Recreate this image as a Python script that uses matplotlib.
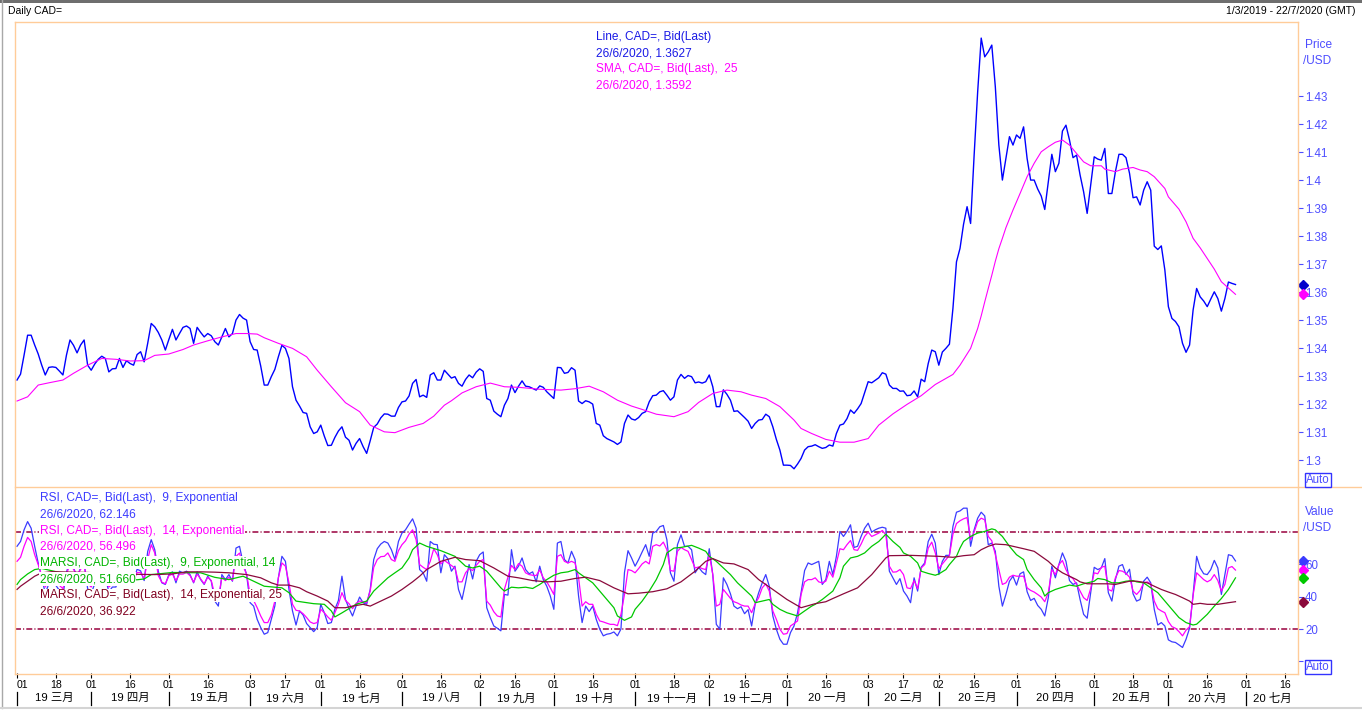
import numpy as np
import pandas as pd
import matplotlib
matplotlib.use('Agg')
import matplotlib.pyplot as plt
from matplotlib.lines import Line2D
from matplotlib.patches import Rectangle
import matplotlib.transforms as mtransforms

plt.rcParams['font.family'] = ['Liberation Sans', 'Noto Sans CJK SC', 'DejaVu Sans']

# ---------------- data ----------------
trading_days = pd.bdate_range('2019-03-01', '2020-07-22')

price = [
    1.3286, 1.3307, 1.3375, 1.3446, 1.3446, 1.3411, 1.3379, 1.3339, 1.3304, 1.3331,
    1.3333, 1.3331, 1.3318, 1.3304, 1.3375, 1.3429, 1.3410, 1.3383, 1.3411, 1.3429,
    1.3339, 1.3321, 1.3343, 1.3360, 1.3371, 1.3363, 1.3315, 1.3326, 1.3327, 1.3363,
    1.3331, 1.3355, 1.3345, 1.3339, 1.3377, 1.3387, 1.3351, 1.3417, 1.3488, 1.3476,
    1.3456, 1.3429, 1.3393, 1.3431, 1.3467, 1.3429, 1.3452, 1.3474, 1.3479, 1.3470,
    1.3417, 1.3474, 1.3456, 1.3440, 1.3452, 1.3444, 1.3423, 1.3411, 1.3440, 1.3470,
    1.3440, 1.3452, 1.3500, 1.3520, 1.3507, 1.3500, 1.3423, 1.3395, 1.3393, 1.3336,
    1.3268, 1.3268, 1.3298, 1.3324, 1.3369, 1.3410, 1.3399, 1.3363, 1.3262, 1.3214,
    1.3193, 1.3170, 1.3167, 1.3119, 1.3095, 1.3101, 1.3125, 1.3086, 1.3052, 1.3053,
    1.3081, 1.3104, 1.3119, 1.3082, 1.3071, 1.3036, 1.3060, 1.3077, 1.3048, 1.3024,
    1.3069, 1.3117, 1.3129, 1.3151, 1.3165, 1.3164, 1.3157, 1.3157, 1.3188, 1.3208,
    1.3211, 1.3229, 1.3274, 1.3288, 1.3226, 1.3232, 1.3224, 1.3304, 1.3312, 1.3286,
    1.3286, 1.3321, 1.3307, 1.3293, 1.3298, 1.3274, 1.3264, 1.3288, 1.3304, 1.3294,
    1.3314, 1.3326, 1.3317, 1.3220, 1.3214, 1.3175, 1.3164, 1.3155, 1.3196, 1.3220,
    1.3268, 1.3241, 1.3264, 1.3283, 1.3264, 1.3262, 1.3256, 1.3250, 1.3265, 1.3260,
    1.3244, 1.3232, 1.3220, 1.3331, 1.3330, 1.3310, 1.3313, 1.3330, 1.3321, 1.3211,
    1.3202, 1.3212, 1.3208, 1.3200, 1.3131, 1.3125, 1.3087, 1.3077, 1.3071, 1.3065,
    1.3056, 1.3065, 1.3131, 1.3161, 1.3147, 1.3143, 1.3152, 1.3167, 1.3173, 1.3208,
    1.3230, 1.3232, 1.3244, 1.3248, 1.3232, 1.3214, 1.3226, 1.3286, 1.3306, 1.3292,
    1.3302, 1.3298, 1.3276, 1.3279, 1.3275, 1.3280, 1.3304, 1.3262, 1.3191, 1.3191,
    1.3251, 1.3235, 1.3214, 1.3174, 1.3176, 1.3164, 1.3152, 1.3139, 1.3113, 1.3131,
    1.3143, 1.3145, 1.3164, 1.3155, 1.3119, 1.3074, 1.3036, 1.2982, 1.2982, 1.2981,
    1.2969, 1.2986, 1.3006, 1.3036, 1.3048, 1.3050, 1.3055, 1.3048, 1.3042, 1.3045,
    1.3054, 1.3050, 1.3095, 1.3125, 1.3129, 1.3148, 1.3179, 1.3167, 1.3183, 1.3202,
    1.3241, 1.3280, 1.3276, 1.3285, 1.3294, 1.3312, 1.3307, 1.3268, 1.3256, 1.3256,
    1.3246, 1.3247, 1.3230, 1.3232, 1.3247, 1.3226, 1.3289, 1.3280, 1.3345, 1.3393,
    1.3387, 1.3339, 1.3386, 1.3399, 1.3414, 1.3542, 1.3708, 1.3756, 1.3842, 1.3905,
    1.3845, 1.4089, 1.4315, 1.4507, 1.4440, 1.4458, 1.4482, 1.4333, 1.4125, 1.4000,
    1.4077, 1.4155, 1.4125, 1.4161, 1.4149, 1.4190, 1.4077, 1.4000, 1.4000, 1.3968,
    1.3943, 1.3895, 1.3994, 1.4092, 1.4030, 1.4060, 1.4175, 1.4196, 1.4143, 1.4080,
    1.4089, 1.4018, 1.3958, 1.3881, 1.3982, 1.4083, 1.4075, 1.4071, 1.4113, 1.3952,
    1.3952, 1.4030, 1.4092, 1.4092, 1.4080, 1.4024, 1.3937, 1.3940, 1.3911, 1.3964,
    1.3994, 1.3964, 1.3764, 1.3752, 1.3765, 1.3679, 1.3548, 1.3506, 1.3495, 1.3476,
    1.3417, 1.3385, 1.3411, 1.3536, 1.3613, 1.3583, 1.3568, 1.3548, 1.3575, 1.3601,
    1.3577, 1.3532, 1.3577, 1.3636, 1.3631, 1.3627,
]

sma_day = [0, 3, 6, 9, 13, 16, 20, 24, 28, 32, 36, 39, 43, 47, 50, 54, 58, 62, 65, 68,
           70, 74, 78, 82, 85, 89, 93, 97, 100, 104, 107, 111, 115, 118, 121,
           123, 126, 130, 134, 138, 142, 148, 154, 158, 162, 166, 170, 174, 177, 181,
           186, 190, 193, 197, 201, 205, 208, 212, 216, 220, 222, 225, 229, 233, 237,
           241, 244, 248, 252, 256, 260, 265, 267, 270, 272, 273, 274, 275, 276, 277,
           278, 279, 280, 282, 284, 286, 288, 290, 292, 294, 296, 298, 300, 302, 304,
           307, 308, 311, 313, 316, 318, 320, 322, 325, 326, 329, 331, 333, 335, 337,
           339, 341, 345]
sma = [1.3211, 1.3226, 1.3268, 1.3276, 1.3286, 1.3310, 1.3339, 1.3363, 1.3360, 1.3354,
       1.3355, 1.3374, 1.3379, 1.3395, 1.3411, 1.3426, 1.3440, 1.3452, 1.3452, 1.3450,
       1.3437, 1.3417, 1.3399, 1.3369, 1.3321, 1.3262, 1.3205, 1.3173, 1.3125, 1.3101,
       1.3098, 1.3117, 1.3131, 1.3157, 1.3196,
       1.3212, 1.3240, 1.3262, 1.3275, 1.3262, 1.3260, 1.3253, 1.3250, 1.3255, 1.3264,
       1.3244, 1.3214, 1.3193, 1.3181, 1.3164, 1.3155, 1.3173, 1.3206, 1.3238, 1.3250,
       1.3244, 1.3232, 1.3220, 1.3191, 1.3143, 1.3113, 1.3095, 1.3074, 1.3064, 1.3064,
       1.3077, 1.3125, 1.3165, 1.3199, 1.3230, 1.3270, 1.3306, 1.3339, 1.3399, 1.3470,
       1.3515, 1.3565, 1.3613, 1.3660, 1.3710, 1.3755, 1.3792, 1.3830, 1.3893, 1.3952,
       1.4012, 1.4060, 1.4101, 1.4119, 1.4135, 1.4143, 1.4125, 1.4095, 1.4065, 1.4051,
       1.4051, 1.4039, 1.4030, 1.4039, 1.4045, 1.4036, 1.4030, 1.4012, 1.3970, 1.3940,
       1.3896, 1.3851, 1.3792, 1.3758, 1.3720, 1.3682, 1.3637, 1.3592]

rsi9 = [
    71.2, 74.2, 81.4, 86.5, 82.4, 71.2, 60.9, 52, 42, 48,
    48, 47, 44, 41, 55, 63, 58, 52, 58, 61,
    45, 42, 48, 52, 54, 52, 43, 46, 46, 54,
    48, 53, 51, 50, 57, 56, 50, 68, 75.3, 69.1,
    55.8, 48.6, 47.6, 53.7, 55.4, 48.6, 55.8, 54.8, 55.8, 53.7,
    48.6, 55.4, 50.6, 47.6, 52.7, 49.6, 37.3, 34.2, 53.7, 50.6,
    53.7, 49.6, 70.1, 71.2, 60.9, 53.7, 36.3, 34.2, 26.0, 20.9,
    16.8, 17.8, 26.0, 34.2, 51.7, 65.0, 61.9, 44.5, 31.2, 22.5,
    31.2, 28.7, 23.4, 20.9, 18.4, 20.9, 35.3, 30.1, 23.4, 24.0,
    32.2, 37.7, 52.7, 38.3, 32.8, 28.1, 34.2, 39.8, 36.3, 35.3,
    44.5, 63.0, 69.7, 72.6, 74.2, 73.2, 69.1, 63.0, 74.2, 79.4,
    81.4, 84.9, 88.2, 82.4, 56.8, 54.8, 49.6, 74.2, 72.5, 72.2,
    54.8, 66.0, 63.5, 55.8, 58.9, 44.5, 38.3, 48.6, 59.9, 51.0,
    61.9, 66.0, 67.7, 33.2, 27.1, 21.9, 20.5, 18.9, 41.4, 41.0,
    69.1, 55.8, 58.9, 64.0, 56.8, 54.2, 55.4, 49.2, 58.9, 50.6,
    46.5, 40.4, 32.2, 73.2, 74.2, 63.0, 60.9, 68.1, 63.0, 40.4,
    24.0, 34.2, 30.8, 34.2, 26.0, 19.9, 15.8, 16.8, 17.2, 18.2,
    15.8, 20.0, 55.0, 68.5, 64.0, 58.9, 63.0, 67.7, 72.2, 65.0,
    79.4, 80.4, 83.3, 84.1, 75.3, 54.8, 49.6, 72.2, 78.3, 71.2,
    71.2, 69.1, 54.8, 58.2, 55.4, 53.7, 69.7, 53.7, 22.9, 19.9,
    51.7, 47.6, 41.8, 34.2, 32.6, 33.8, 29.5, 32.0, 21.9, 35.3,
    42.5, 48.6, 53.7, 46.5, 28.1, 19.9, 13.7, 10.6, 10.6, 17.8,
    21.9, 30.0, 42.5, 56.2, 60.9, 59.9, 60.9, 61.9, 47.6, 50.6,
    61.9, 53.7, 65.0, 80.4, 77.3, 80.4, 84.5, 70.5, 71.2, 77.3,
    82.4, 85.5, 80.0, 81.4, 82.4, 83.0, 82.4, 55.8, 51.7, 47.6,
    51.2, 43.5, 40.4, 36.3, 51.7, 43.5, 58.2, 60.9, 74.2, 78.7,
    73.2, 53.7, 61.9, 65.6, 65.6, 83.5, 92.3, 93.1, 94.8, 94.8,
    71.2, 81.4, 88.6, 92.3, 90.0, 72.2, 73.2, 68.1, 46.5, 34.2,
    41.4, 49.6, 52.7, 47.2, 54.2, 55.4, 43.1, 37.7, 39.0, 34.6,
    32.2, 28.1, 39.4, 58.9, 51.7, 59.9, 67.1, 61.9, 50.0, 47.6,
    48.6, 38.3, 29.1, 26.7, 42.5, 58.2, 56.8, 57.8, 63.6, 42.5,
    37.3, 50.6, 58.9, 59.9, 53.7, 57.0, 41.8, 37.3, 38.3, 49.6,
    52.1, 48.6, 32.2, 22.5, 24.0, 21.9, 13.3, 12.1, 11.7, 10.2,
    8.6, 13.7, 20.5, 41.4, 65.0, 57.8, 54.2, 53.7, 56.8, 62.5,
    57.8, 41.4, 53.7, 66.0, 65.4, 62.146,
]

rsi14 = [
    61.9, 64.4, 71.2, 76.7, 74.2, 66.0, 59.9, 53, 46, 50,
    50, 49, 47, 45, 54, 60, 57, 53, 57, 59,
    48, 46, 50, 52, 53, 52, 46, 48, 48, 53,
    49, 52, 51, 50, 55, 55, 51, 63, 72.2, 67.1,
    53, 49, 48, 53, 54, 50, 54, 54, 55, 53,
    49, 54, 51, 48, 52, 50, 41, 39, 52, 50,
    52, 50, 65, 67, 59, 54, 41.4, 37.7, 33.2, 28.1,
    24.0, 24.0, 28.7, 37.3, 51.7, 60.9, 58.9, 48.6, 35.3, 31.6,
    31.2, 29.5, 27.1, 24.4, 23.4, 24.0, 32.2, 30.1, 27.5, 25.4,
    30.1, 35.3, 42.5, 37.7, 35.7, 32.6, 35.9, 37.3, 36.9, 36.3,
    43.5, 58.2, 63.0, 64.8, 65.0, 67.1, 63.0, 61.9, 68.5, 72.2,
    74.6, 78.7, 81.4, 75.3, 59.9, 58.2, 56.8, 61.9, 69.7, 66.0,
    60.3, 62.5, 60.9, 59.3, 57.8, 49.2, 49.2, 54.8, 57.4, 56.2,
    59.4, 61.9, 63.0, 37.3, 34.8, 30.7, 28.1, 27.5, 44.5, 52.1,
    59.4, 56.8, 60.5, 58.9, 54.8, 53.7, 53.3, 53.1, 56.6, 51.7,
    49.2, 45.5, 41.4, 65.0, 66.0, 61.9, 60.9, 61.9, 60.9, 51.7,
    34.2, 36.9, 35.3, 35.3, 29.1, 25.0, 24.4, 23.6, 22.9, 22.9,
    22.1, 29.1, 41.4, 56.8, 56.2, 54.8, 57.4, 60.3, 61.9, 60.3,
    71.2, 72.2, 71.4, 73.8, 69.1, 56.2, 55.8, 68.1, 70.5, 69.1,
    68.1, 63.0, 57.8, 58.4, 57.4, 56.8, 66.4, 53.7, 34.2, 35.3,
    44.5, 41.8, 39.0, 36.9, 36.1, 34.9, 34.2, 34.2, 30.1, 35.7,
    39.4, 45.5, 48.0, 43.5, 31.2, 26.0, 19.9, 16.8, 17.2, 21.9,
    23.4, 25.0, 41.4, 49.2, 50.6, 50.6, 51.7, 49.2, 48.6, 49.6,
    55.8, 52.1, 60.9, 69.7, 69.1, 72.2, 74.8, 69.1, 68.7, 72.6,
    77.3, 80.0, 77.3, 78.3, 79.4, 81.0, 78.3, 58.9, 55.2, 55.4,
    56.8, 53.7, 45.5, 45.0, 50.0, 45.0, 57.8, 59.9, 70.1, 73.8,
    67.1, 57.4, 60.3, 63.0, 65.6, 78.7, 85.3, 87.0, 88.2, 89.0,
    75.3, 80.0, 86.5, 88.6, 87.6, 77.3, 74.6, 66.0, 56.8, 47.6,
    48.6, 52.1, 53.3, 52.7, 52.7, 52.7, 45.5, 43.9, 42.9, 41.4,
    39.8, 36.9, 42.5, 56.8, 53.7, 59.9, 62.4, 56.8, 52.7, 51.2,
    47.6, 43.5, 39.4, 37.7, 45.1, 54.8, 54.2, 58.2, 58.9, 44.5,
    43.5, 51.7, 56.2, 55.8, 54.4, 52.1, 43.5, 41.4, 43.9, 48.6,
    49.2, 48.0, 37.3, 32.6, 31.2, 30.1, 24.6, 21.5, 20.5, 18.4,
    15.8, 19.3, 21.5, 41.0, 54.8, 52.7, 50.6, 49.2, 50.4, 53.7,
    50.0, 43.5, 47.6, 57.8, 58.7, 56.496,
]

marsi9_day = [0, 1, 3, 5, 7, 10, 14, 18, 22, 26, 30, 34, 36, 38, 44, 52, 56, 60, 64, 67,
              70, 75, 77, 79, 82, 84, 87, 89, 90, 92, 96, 99, 101, 103, 105, 107, 109, 111, 112, 114,
              116, 120, 124, 127, 129, 131, 133, 135, 137, 138, 140, 142, 144, 146, 148, 150, 152, 154, 156, 158,
              159, 161, 163, 165, 167, 169, 170, 172, 174, 175, 177, 179, 181, 183, 184, 186, 188, 191, 193, 195,
              196, 198, 200, 202, 204, 206, 208, 209, 211, 213, 214, 216, 218, 221, 223, 225, 226, 228, 231, 233,
              234, 236, 238, 240, 242, 244, 246, 248, 250, 251, 253, 255, 256, 258, 260, 261, 263, 264, 266, 267,
              268, 270, 272, 274, 276, 277, 279, 281, 283, 285, 286, 288, 290, 291, 292, 294, 296, 298, 300, 302,
              305, 306, 308, 310, 312, 314, 316, 317, 319, 321, 323, 325, 327, 329, 331, 333, 334, 335, 337, 339,
              341, 343, 345]
marsi9 = [47.6, 50.6, 54.1, 56.8, 57.5, 56, 54, 54, 52.5, 51.5, 50.5, 50.5, 51, 53.7, 55, 54.8, 52, 50.6, 52.7, 49.6,
          46.5, 45.5, 42.5, 37.3, 36.3, 35.7, 35.3, 31.2, 27.5, 30.0, 35.3, 37.3, 43.5, 47.6, 51.7, 54.8, 57.8, 64.0, 69.1, 73.2,
          71.2, 68.5, 65.0, 58.9, 57.8, 58.9, 55.8, 50.6, 45.5, 43.5, 45.9, 45.5, 45.9, 45.1, 47.6, 50.6, 53.3, 54.8, 55.4, 56.8,
          54.8, 51.7, 48.6, 43.5, 38.3, 33.2, 28.1, 25.4, 27.5, 32.2, 37.3, 43.5, 50.6, 59.9, 67.1, 70.1, 70.5, 71.8, 70.1, 68.1,
          65.0, 61.9, 57.8, 53.7, 48.6, 44.5, 40.4, 36.3, 37.3, 38.3, 35.3, 32.2, 30.1, 28.1, 31.2, 34.2, 35.3, 38.3, 43.5, 51.7,
          58.9, 64.0, 65.0, 67.1, 71.2, 74.2, 78.7, 74.2, 70.5, 67.1, 65.0, 60.9, 55.8, 54.4, 53.3, 54.1, 56.8, 59.9, 65.0, 70.1,
          74.2, 77.3, 79.4, 80.4, 82.0, 81.4, 77.3, 71.2, 66.0, 63.0, 56.8, 50.6, 45.5, 40.4, 42.5, 44.5, 45.9, 47.2, 46.5, 48.0,
          49.6, 51.3, 50.6, 48.6, 48.6, 49.6, 50.0, 49.2, 48.6, 45.5, 42.5, 37.3, 32.2, 27.1, 24.0, 22.5, 23.0, 25.0, 29.1, 34.2,
          38.9, 44.5, 51.66]

marsi25_day = [0, 1, 3, 5, 7, 10, 20, 30, 39, 44, 48, 52, 56, 60, 65, 69, 72, 74, 77, 80,
               82, 85, 88, 90, 93, 95, 98, 100, 103, 106, 109, 112, 114, 116, 120, 124, 127, 131, 135, 139,
               142, 146, 150, 154, 158, 161, 165, 169, 173, 176, 180, 184, 188, 192, 195, 197, 200, 203, 207, 210,
               214, 218, 222, 226, 229, 231, 234, 238, 242, 246, 247, 253, 261, 265, 268, 271, 273, 275, 277, 280,
               283, 285, 288, 290, 292, 294, 296, 298, 300, 301, 303, 309, 311, 313, 315, 317, 320, 322, 324, 326,
               328, 330, 332, 333, 335, 337, 340, 343, 345]
marsi25 = [44.5, 46.5, 49.6, 52.7, 54.8, 55.5, 55, 54, 53.7, 54.1, 55.4, 55.4, 55.2, 54.8, 53.7, 51.7, 48.6, 47.2, 47.2, 45.5,
           43.1, 40.4, 37.3, 33.2, 33.2, 34.2, 35.3, 34.2, 37.3, 40.4, 44.5, 49.2, 52.7, 56.8, 61.9, 64.4, 63.0, 62.3, 57.8, 52.7,
           51.7, 50.0, 49.2, 49.6, 51.3, 52.1, 50.0, 45.5, 41.8, 42.2, 43.1, 44.9, 49.2, 55.8, 61.9, 63.6, 60.9, 60.3, 56.8, 50.6,
           44.5, 38.3, 33.2, 35.7, 36.9, 38.9, 41.8, 45.5, 53.7, 64.0, 65.4, 65.6, 65.0, 64.4, 65.4, 66.0, 69.1, 71.2, 72.6, 72.2,
           70.7, 69.7, 68.1, 65.0, 61.9, 57.8, 54.8, 52.7, 50.6, 49.2, 48.0, 48.0, 47.6, 48.6, 49.6, 49.6, 48.6, 46.5, 44.5, 42.9,
           41.4, 39.4, 37.3, 35.3, 35.9, 35.3, 35.3, 36.3, 36.922]

price_ticks = [1.30, 1.31, 1.32, 1.33, 1.34, 1.35, 1.36, 1.37, 1.38, 1.39, 1.40, 1.41, 1.42, 1.43]
rsi_ticks = [0, 20, 40, 60]
rsi_levels = [80, 20]
month_names = ['一月', '二月', '三月', '四月', '五月', '六月', '七月', '八月', '九月', '十月', '十一月', '十二月']

# ---------------- style ----------------
W, H = 1362, 710
C_PRICE = '#0000FF'
C_SMA = '#FF00FF'
C_RSI9 = '#3B3BFF'
C_RSI14 = '#FF00FF'
C_MA9 = '#00C800'
C_MA25 = '#8B0A3C'
C_LEVEL = '#99003D'
C_FRAME = '#FFCC99'
C_AXT = '#4D4DFF'
FS = 8.6


def fx(x):
    return x / W


def fy(y):
    return 1 - y / H


fig = plt.figure(figsize=(W / 100, H / 100), dpi=100)
fig.patch.set_facecolor('white')

ax1 = fig.add_axes([fx(15), fy(487), (1298 - 15) / W, (487 - 21) / H])
ax2 = fig.add_axes([fx(15), fy(673), (1298 - 15) / W, (673 - 487) / H])

XLIM = (-0.57, 362.7)
for ax in (ax1, ax2):
    ax.set_xlim(*XLIM)
    for s in ax.spines.values():
        s.set_visible(False)
    ax.set_facecolor('none')

# price panel
x_price = np.arange(len(price))
ax1.plot(x_price, price, color=C_PRICE, lw=1.0, zorder=3)
ax1.plot(sma_day, sma, color=C_SMA, lw=0.8, zorder=4)
ax1.set_ylim(1.2904, 1.4568)
ax1.set_xticks([])
ax1.yaxis.tick_right()
ax1.set_yticks(price_ticks)
ax1.set_yticklabels([('%.2f' % t).rstrip('0').rstrip('.') for t in price_ticks])
ax1.tick_params(axis='y', direction='out', length=3.6, width=0.8, colors=C_AXT, labelsize=8.3, pad=1.5)

# RSI panel
x_rsi = np.arange(len(rsi9))
ax2.plot(x_rsi, rsi9, color=C_RSI9, lw=0.9, zorder=2)
ax2.plot(x_rsi, rsi14, color=C_RSI14, lw=0.9, zorder=3)
ax2.plot(marsi9_day, marsi9, color=C_MA9, lw=0.9, zorder=4)
ax2.plot(marsi25_day, marsi25, color=C_MA25, lw=0.9, zorder=4)
for lv in rsi_levels:
    ax2.axhline(lv, color=C_LEVEL, lw=1.1, ls=(0, (3.9, 1.4, 0.7, 1.4)), zorder=1)
ax2.set_ylim(-7.2, 107.9)
ax2.yaxis.tick_right()
ax2.set_yticks(rsi_ticks)
ax2.set_yticklabels(['' if t == 0 else str(t) for t in rsi_ticks])
ax2.tick_params(axis='y', direction='out', length=3.6, width=0.8, colors=C_AXT, labelsize=8.3, pad=1.5)

# end-value diamonds on the right edge
tr1 = mtransforms.blended_transform_factory(ax1.transAxes, ax1.transData)
tr2 = mtransforms.blended_transform_factory(ax2.transAxes, ax2.transData)
ax1.plot([1.0037], [price[-1]], marker='D', ms=5, color='#0000CC', transform=tr1, clip_on=False, zorder=6)
ax1.plot([1.0037], [sma[-1]], marker='D', ms=5, color=C_SMA, transform=tr1, clip_on=False, zorder=6)
for val, col in [(rsi9[-1], C_RSI9), (rsi14[-1], C_RSI14), (marsi9[-1], C_MA9), (marsi25[-1], C_MA25)]:
    ax2.plot([1.0037], [val], marker='D', ms=5, color=col, transform=tr2, clip_on=False, zorder=6)

# x-axis ticks (trading-day axis)
tick_pos, tick_lab = [], []
month_starts = []
dts = pd.Series(trading_days)
for (yy, mm), grp in dts.groupby([dts.dt.year, dts.dt.month]):
    idxs = grp.index.tolist()
    month_starts.append((idxs[0], yy, mm))
    tick_pos.append(idxs[0])
    tick_lab.append('%02d' % grp.iloc[0].day)
    mid = grp[grp.dt.day >= 16]
    if len(mid):
        tick_pos.append(mid.index[0])
        tick_lab.append('%02d' % mid.iloc[0].day)

ax2.set_xticks(tick_pos)
ax2.set_xticklabels(tick_lab)
ax2.tick_params(axis='x', direction='out', length=3.6, width=0.8, colors='black', labelsize=7.6, pad=1.5)
labs = ax2.get_xticklabels()
labs[0].set_ha('left')

# month row
trm = mtransforms.blended_transform_factory(ax2.transData, fig.transFigure)
for k, (start, yy, mm) in enumerate(month_starts):
    end = month_starts[k + 1][0] if k + 1 < len(month_starts) else XLIM[1]
    fig.add_artist(Line2D([start, start], [fy(692), fy(705)], transform=trm, color='black', lw=0.9))
    cx = (start + end) / 2.0
    fig.text(cx, fy(698), '%02d %s' % (yy % 100, month_names[mm - 1]), transform=trm,
             ha='center', va='center', fontsize=8.2, color='black')

# frame lines
def hline(y, x0, x1, c=C_FRAME, lw=1.0):
    fig.add_artist(Line2D([fx(x0), fx(x1)], [fy(y), fy(y)], color=c, lw=lw))


def vline(x, y0, y1, c=C_FRAME, lw=1.0):
    fig.add_artist(Line2D([fx(x), fx(x)], [fy(y0), fy(y1)], color=c, lw=lw))


hline(21.5, 15, 1298)
hline(487, 15, 1362)
hline(673.5, 15, 1298)
vline(15, 21.5, 673.5)
vline(1298, 21.5, 673.5)

# outer window border
fig.add_artist(Rectangle((0, fy(2.5)), 1, 2.5 / H, transform=fig.transFigure, color='#6E6E6E', lw=0))
vline(1.5, 0, 708, c='#A8A8A8', lw=1.0)
hline(707.5, 0, 1362, c='#D4D4D4', lw=1.5)

# header
fig.text(fx(8), fy(11), 'Daily CAD=', fontsize=7.5, color='black', ha='left', va='center')
fig.text(fx(1356), fy(11), '1/3/2019 - 22/7/2020 (GMT)', fontsize=7.5, color='black', ha='right', va='center')

# axis titles
fig.text(fx(1305), fy(45), 'Price', fontsize=FS, color=C_AXT, ha='left', va='center')
fig.text(fx(1303), fy(61), '/USD', fontsize=FS, color=C_AXT, ha='left', va='center')
fig.text(fx(1305), fy(512), 'Value', fontsize=FS, color=C_AXT, ha='left', va='center')
fig.text(fx(1303), fy(528), '/USD', fontsize=FS, color=C_AXT, ha='left', va='center')
for yb in (480, 667):
    fig.text(fx(1318), fy(yb), 'Auto', fontsize=8.3, color=C_AXT, ha='center', va='center',
             bbox=dict(boxstyle='square,pad=0.12', facecolor='white', edgecolor='#3333FF', lw=1.0))

# price legend
leg1 = [('Line, CAD=, Bid(Last)', '#1A1AE6'),
        ('26/6/2020, %.4f' % price[-1], '#1A1AE6'),
        ('SMA, CAD=, Bid(Last),  25', C_SMA),
        ('26/6/2020, %.4f' % sma[-1], C_SMA)]
for k, (t, c) in enumerate(leg1):
    fig.text(fx(596), fy(37 + 16 * k), t, fontsize=FS, color=c, ha='left', va='center', zorder=10)

# RSI legend (white boxes hide the lines underneath)
leg2 = [('RSI, CAD=, Bid(Last),  9, Exponential', C_RSI9),
        ('26/6/2020, %.3f' % rsi9[-1], C_RSI9),
        ('RSI, CAD=, Bid(Last),  14, Exponential', C_RSI14),
        ('26/6/2020, %.3f' % rsi14[-1], C_RSI14),
        ('MARSI, CAD=, Bid(Last),  9, Exponential, 14', '#00B400'),
        ('26/6/2020, %.3f' % marsi9[-1], '#00B400'),
        ('MARSI, CAD=, Bid(Last),  14, Exponential, 25', '#800020'),
        ('26/6/2020, %.3f' % marsi25[-1], '#800020')]
for k, (t, c) in enumerate(leg2):
    fig.text(fx(40), fy(498.5 + 16.1 * k), t, fontsize=FS, color=c, ha='left', va='center', zorder=10,
             bbox=dict(boxstyle='square,pad=0.05', facecolor='white', edgecolor='none'))

fig.savefig('out.png', dpi=100, facecolor='white')
